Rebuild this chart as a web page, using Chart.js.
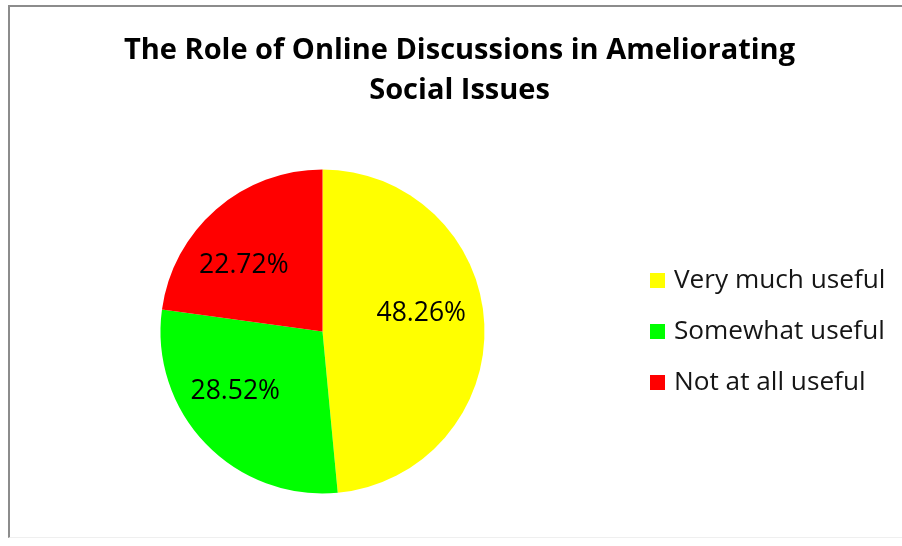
<!DOCTYPE html>
<html>
<head>
<meta charset="utf-8">
<script src="https://cdn.jsdelivr.net/npm/chart.js@4/dist/chart.umd.min.js"></script>
<style>
  html, body { margin: 0; padding: 0; background: #fff; overflow: hidden; }
  #wrap { position: relative; width: 902px; height: 546px; }
  #frame {
    position: absolute; left: 8px; top: 5px; width: 900px; height: 533px;
    border-left: 2px solid #8c8c8c; border-top: 2px solid #8c8c8c;
    border-bottom: 1px solid #efefef; box-sizing: border-box;
  }
  canvas { position: absolute; left: 0; top: 0; }
</style>
</head>
<body>
<div id="wrap">
  <div id="frame"></div>
  <canvas id="c" width="902" height="546"></canvas>
</div>
<script>
// Survey answers and their shares (percent)
const categories = ['Very much useful', 'Somewhat useful', 'Not at all useful'];
const shares = [48.26, 28.52, 22.72];
const sliceColors = ['#FFFF00', '#00FF00', '#FF0000'];
const titleLines = ['The Role of Online Discussions in Ameliorating', 'Social Issues'];

// Where each percentage sits inside its slice: fraction of radius, angle nudge (deg)
const labelPlacement = [[0.62, -7.9], [0.652, 9.5], [0.633, -9.0]];

const FONT = '"Open Sans", Lato, sans-serif';

const titlePlugin = {
  id: 'chartTitle',
  afterDraw(chart) {
    const ctx = chart.ctx;
    ctx.save();
    ctx.fillStyle = '#000';
    ctx.font = 'bold 29px ' + FONT;
    ctx.textAlign = 'center';
    ctx.textBaseline = 'alphabetic';
    ctx.fillText(titleLines[0], 459.5, 58.5);
    ctx.fillText(titleLines[1], 459.5, 98.5);
    ctx.restore();
  }
};

const sliceLabels = {
  id: 'sliceLabels',
  afterDatasetsDraw(chart) {
    const ctx = chart.ctx;
    const meta = chart.getDatasetMeta(0);
    ctx.save();
    ctx.fillStyle = '#000';
    ctx.font = '26.5px ' + FONT;
    ctx.textAlign = 'center';
    ctx.textBaseline = 'middle';
    meta.data.forEach((arc, i) => {
      const p = arc.getProps(['x', 'y', 'startAngle', 'endAngle', 'outerRadius'], true);
      const [frac, nudge] = labelPlacement[i];
      const a = (p.startAngle + p.endAngle) / 2 + nudge * Math.PI / 180;
      const r = p.outerRadius * frac;
      const v = chart.data.datasets[0].data[i];
      ctx.fillText(v.toFixed(2) + '%', p.x + Math.cos(a) * r, p.y + Math.sin(a) * r);
    });
    ctx.restore();
  }
};

const sideLegend = {
  id: 'sideLegend',
  afterDraw(chart) {
    const ctx = chart.ctx;
    const ds = chart.data.datasets[0];
    ctx.save();
    ctx.font = '26.2px ' + FONT;
    ctx.textAlign = 'left';
    ctx.textBaseline = 'middle';
    chart.data.labels.forEach((lab, i) => {
      const cy = 280.5 + i * 51;
      ctx.fillStyle = ds.backgroundColor[i];
      ctx.fillRect(650, cy - 7.5, 15, 15);
      ctx.fillStyle = '#151515';
      ctx.fillText(lab, 674, cy);
    });
    ctx.restore();
  }
};

new Chart(document.getElementById('c'), {
  type: 'pie',
  data: {
    labels: categories,
    datasets: [{
      data: shares,
      backgroundColor: sliceColors,
      borderWidth: 0,
      hoverOffset: 0,
      offset: 0
    }]
  },
  options: {
    responsive: false,
    animation: false,
    events: [],
    layout: { padding: { left: 160.5, right: 417.5, top: 169.5, bottom: 52.5 } },
    plugins: {
      legend: { display: false },
      title: { display: false },
      tooltip: { enabled: false }
    }
  },
  plugins: [titlePlugin, sliceLabels, sideLegend]
});
</script>
</body>
</html>
